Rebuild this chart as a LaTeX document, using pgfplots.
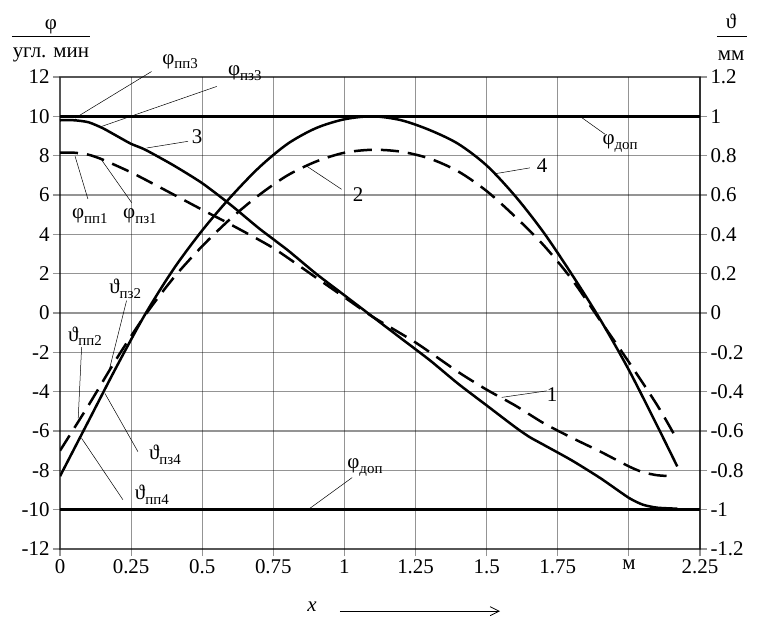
\documentclass[border=0pt]{standalone}
\usepackage{fontspec}
\setmainfont{Liberation Serif}
\usepackage{pgfplots}
\pgfplotsset{compat=1.18}
\usetikzlibrary{calc,arrows.meta}
\newcommand{\fs}{\fontsize{21}{25}\selectfont}
\newcommand{\fsub}{\fontsize{15}{18}\selectfont}
\newcommand{\lab}[2]{#1\raisebox{-0.22em}{\fsub #2}}
\begin{document}
\begin{tikzpicture}[font=\fs]
\begin{axis}[
  scale only axis, width=640bp, height=472bp,
  xmin=0, xmax=2.25, ymin=-12, ymax=12,
  xtick={0,0.25,0.5,0.75,1,1.25,1.5,1.75,2,2.25},
  xticklabels={0,0.25,0.5,0.75,1,1.25,1.5,1.75,м,2.25},
  ytick={-12,-10,-8,-6,-4,-2,0,2,4,6,8,10,12},
  xmajorgrids=true, ymajorgrids=true,
  major grid style={draw=black, draw opacity=0.42, line width=1.1bp},
  axis line style={draw=black, draw opacity=0.42, line width=1.1bp},
  major tick style={draw=black, draw opacity=0.42, line width=1.1bp},
  tick align=outside, major tick length=7bp,
  xtick pos=bottom, ytick pos=left,
  /pgf/number format/assume math mode=true,
  tick label style={font=\fs, text=black},
  clip=false,
]
\coordinate (SW) at (rel axis cs:0,0);
\coordinate (NE) at (rel axis cs:1,1);
% limits
\addplot[black, line width=2.5bp] coordinates {(0,10) (2.25,10)};
\addplot[black, line width=2.5bp] coordinates {(0,-10) (2.25,-10)};
% curve 3 (solid phi)
\addplot[black, line width=2.5bp, smooth, tension=0.4] coordinates {
(0,9.8) (0.05,9.8) (0.1,9.7) (0.15,9.4) (0.2,9.0) (0.25,8.6) (0.3,8.3) (0.4,7.5) (0.5,6.6)
(0.6,5.5) (0.7,4.3) (0.8,3.2) (0.9,2.0) (1.0,0.9) (1.1,-0.2) (1.2,-1.3) (1.3,-2.4)
(1.4,-3.6) (1.5,-4.7) (1.6,-5.8) (1.65,-6.3) (1.7,-6.7) (1.8,-7.5) (1.9,-8.4) (2.0,-9.4)
(2.05,-9.75) (2.1,-9.9) (2.17,-9.95)};
% curve 1 (dashed phi)
\addplot[black, line width=2.5bp, dash pattern=on 18bp off 9bp, smooth, tension=0.4] coordinates {
(0,8.15) (0.05,8.15) (0.1,8.05) (0.15,7.8) (0.25,7.15) (0.35,6.4) (0.5,5.25) (0.6,4.5)
(0.75,3.3) (0.9,1.8) (1.0,0.8) (1.1,-0.2) (1.25,-1.5) (1.4,-3.0) (1.5,-3.9) (1.6,-4.7)
(1.7,-5.6) (1.8,-6.35) (1.9,-7.05) (2.0,-7.8) (2.05,-8.1) (2.1,-8.25) (2.15,-8.3)};
% annotations
\node at (axis cs:0.422,12.78) {\lab{φ}{пп3}};
\draw[black, line width=0.5bp] (axis cs:0.322,12.28) -- (axis cs:0.053,9.91);
\node at (axis cs:0.650,12.2) {\lab{φ}{пз3}};
\draw[black, line width=0.5bp] (axis cs:0.551,11.52) -- (axis cs:0.147,9.49);
\node at (axis cs:0.482,8.99) {3};
\draw[black, line width=0.5bp] (axis cs:0.450,8.73) -- (axis cs:0.305,8.39);
\node at (axis cs:1.969,8.63) {\lab{φ}{доп}};
\draw[black, line width=0.5bp] (axis cs:1.828,10.0) -- (axis cs:1.916,9.09);
\node at (axis cs:1.695,7.47) {4};
\draw[black, line width=0.5bp] (axis cs:1.652,7.38) -- (axis cs:1.529,7.08);
\node at (axis cs:1.048,6.0) {2};
\draw[black, line width=0.5bp] (axis cs:0.990,6.29) -- (axis cs:0.867,7.47);
\node at (axis cs:0.105,4.94) {\lab{φ}{пп1}};
\draw[black, line width=0.5bp] (axis cs:0.098,5.80) -- (axis cs:0.053,7.97);
\node at (axis cs:0.281,4.94) {\lab{φ}{пз1}};
\draw[black, line width=0.5bp] (axis cs:0.252,5.61) -- (axis cs:0.141,7.89);
\node at (axis cs:0.229,1.24) {\lab{ϑ}{пз2}};
\draw[black, line width=0.5bp] (axis cs:0.234,0.63) -- (axis cs:0.170,-3.08);
\node at (axis cs:0.088,-1.19) {\lab{ϑ}{пп2}};
\draw[black, line width=0.5bp] (axis cs:0.076,-1.73) -- (axis cs:0.064,-5.36);
\node at (axis cs:0.369,-7.22) {\lab{ϑ}{пз4}};
\draw[black, line width=0.5bp] (axis cs:0.274,-7.05) -- (axis cs:0.158,-4.09);
\node at (axis cs:0.323,-9.24) {\lab{ϑ}{пп4}};
\draw[black, line width=0.5bp] (axis cs:0.221,-9.49) -- (axis cs:0.076,-6.37);
\node at (axis cs:1.072,-7.87) {\lab{φ}{доп}};
\draw[black, line width=0.5bp] (axis cs:1.027,-8.37) -- (axis cs:0.872,-10.0);
\node at (axis cs:1.730,-4.13) {1};
\draw[black, line width=0.5bp] (axis cs:1.711,-3.96) -- (axis cs:1.553,-4.29);
% axis titles
\node at (axis cs:-0.032,14.56) {φ};
\draw[black, line width=0.6bp] (axis cs:-0.169,14.05) -- (axis cs:0.105,14.05);
\node at (axis cs:-0.032,13.14) {угл. мин};
\node at (axis cs:2.359,14.81) {ϑ};
\draw[black, line width=0.6bp] (axis cs:2.309,14.09) -- (axis cs:2.414,14.09);
\node at (axis cs:2.359,13.09) {мм};
\node at (axis cs:0.886,-14.91) {\textit{x}};
\draw[black, line width=0.8bp, -{Straight Barb[length=9bp,width=9bp]}] (axis cs:0.984,-15.16) -- (axis cs:1.547,-15.16);
\end{axis}
\begin{axis}[
  scale only axis, width=640bp, height=472bp,
  xmin=0, xmax=2.25, ymin=-1.2, ymax=1.2,
  axis x line=none, axis y line*=right,
  ytick={-1.2,-1,-0.8,-0.6,-0.4,-0.2,0,0.2,0.4,0.6,0.8,1,1.2},
  axis line style={draw=black, draw opacity=0.42, line width=1.1bp},
  major tick style={draw=black, draw opacity=0.42, line width=1.1bp},
  tick align=outside, major tick length=7bp,
  /pgf/number format/assume math mode=true,
  /pgf/number format/fixed, /pgf/number format/precision=1,
  tick label style={font=\fs, text=black},
]
% curve 4 (solid theta)
\addplot[black, line width=2.5bp, smooth, tension=0.5] coordinates {
(0,-0.83) (0.1,-0.55) (0.2,-0.27) (0.3,-0.005) (0.4,0.225) (0.5,0.42) (0.6,0.59)
(0.7,0.74) (0.8,0.86) (0.9,0.94) (1.0,0.985) (1.1,1.0) (1.2,0.98) (1.3,0.93) (1.4,0.86)
(1.5,0.75) (1.6,0.595) (1.7,0.41) (1.8,0.195) (1.9,-0.035) (2.0,-0.29) (2.1,-0.575)
(2.17,-0.78)};
% curve 2 (dashed theta)
\addplot[black, line width=2.5bp, dash pattern=on 18bp off 9bp, smooth, tension=0.5] coordinates {
(0,-0.70) (0.1,-0.47) (0.2,-0.23) (0.3,-0.01) (0.4,0.18) (0.5,0.34) (0.6,0.48) (0.7,0.60)
(0.8,0.70) (0.9,0.77) (1.0,0.815) (1.1,0.83) (1.2,0.82) (1.3,0.785) (1.4,0.72) (1.5,0.62)
(1.6,0.49) (1.7,0.345) (1.8,0.17) (1.9,-0.04) (2.0,-0.25) (2.1,-0.47) (2.16,-0.62)};
\end{axis}
\pgfresetboundingbox
\path[use as bounding box] ($(SW)+(-60bp,-69bp)$) rectangle ($(NE)+(57bp,77bp)$);
\end{tikzpicture}
\end{document}
